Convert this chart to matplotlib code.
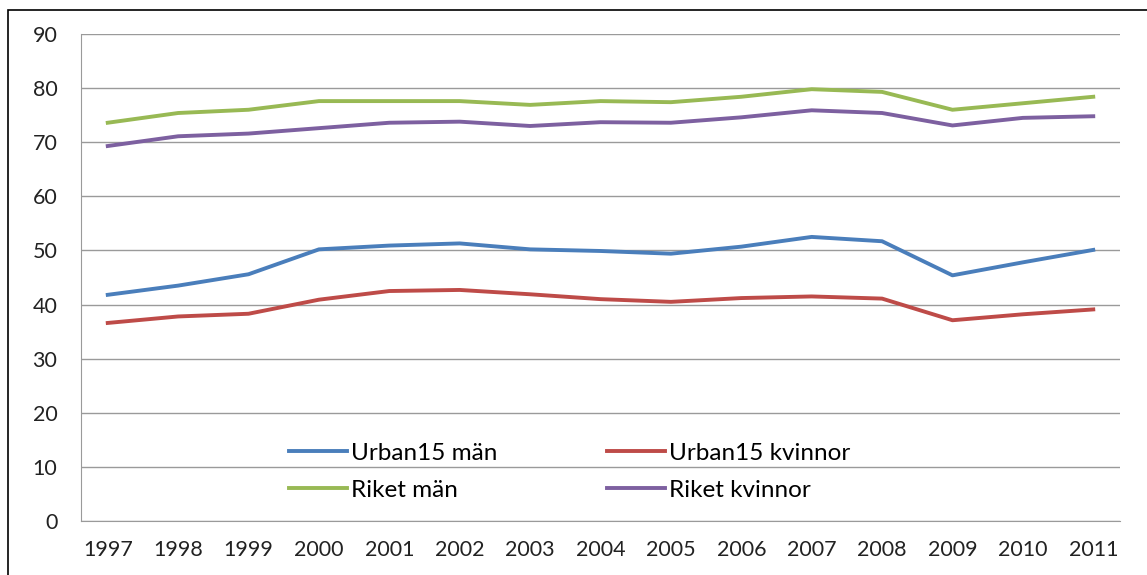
import matplotlib.pyplot as plt
from matplotlib.patches import Rectangle

plt.rcParams['font.family'] = ['Lato', 'DejaVu Sans']

years = [str(y) for y in range(1997, 2012)]
urban_man = [41.8, 43.5, 45.6, 50.2, 50.9, 51.3, 50.2, 49.9, 49.4, 50.7, 52.5, 51.7, 45.4, 47.8, 50.1]
urban_kvinnor = [36.6, 37.8, 38.3, 40.9, 42.5, 42.7, 41.9, 41.0, 40.5, 41.2, 41.5, 41.1, 37.1, 38.2, 39.1]
riket_man = [73.6, 75.4, 76.0, 77.6, 77.6, 77.6, 76.9, 77.6, 77.4, 78.4, 79.8, 79.3, 76.0, 77.2, 78.4]
riket_kvinnor = [69.3, 71.1, 71.6, 72.6, 73.6, 73.8, 73.0, 73.7, 73.6, 74.6, 75.9, 75.4, 73.1, 74.5, 74.8]

fig = plt.figure(figsize=(11.47, 5.75), dpi=100)
ax = fig.add_axes([81/1147, 54/575, 1039/1147, 487/575])

x = range(len(years))
l1, = ax.plot(x, urban_man, color='#4A7EBB', lw=2.8, label='Urban15 män')
l2, = ax.plot(x, urban_kvinnor, color='#BE4B48', lw=2.8, label='Urban15 kvinnor')
l3, = ax.plot(x, riket_man, color='#98B954', lw=2.8, label='Riket män')
l4, = ax.plot(x, riket_kvinnor, color='#7D60A0', lw=2.8, label='Riket kvinnor')

ax.set_xlim(-0.38, len(years) - 1 + 0.38)
ax.set_ylim(0, 90)
ax.set_yticks(range(0, 91, 10))
ax.set_xticks(list(x))
ax.set_xticklabels(years)
ax.grid(axis='y', color='#9a9a9a', lw=1)
ax.set_axisbelow(True)
for s in ['top', 'right']:
    ax.spines[s].set_visible(False)
for s in ['left', 'bottom']:
    ax.spines[s].set_color('#9a9a9a')
ax.tick_params(axis='y', length=0, labelsize=15.5, colors='#222222', pad=17)
ax.tick_params(axis='x', length=0, labelsize=15.5, colors='#222222', pad=14)

# row-wise order like the original
handles = [l1, l3, l2, l4]
ax.legend(handles, [h.get_label() for h in handles], ncol=2, loc='center',
          bbox_to_anchor=(0.47, 0.101), frameon=False,
          fontsize=17.5, handlelength=2.4, handletextpad=0.15, columnspacing=4.5,
          labelspacing=0.65)

fig.patches.append(Rectangle((8/1147, -0.1), 1.2, 1 - 10/575 + 0.1, transform=fig.transFigure,
                             fill=False, edgecolor='black', lw=1.2))

fig.savefig('out.png', dpi=100)
